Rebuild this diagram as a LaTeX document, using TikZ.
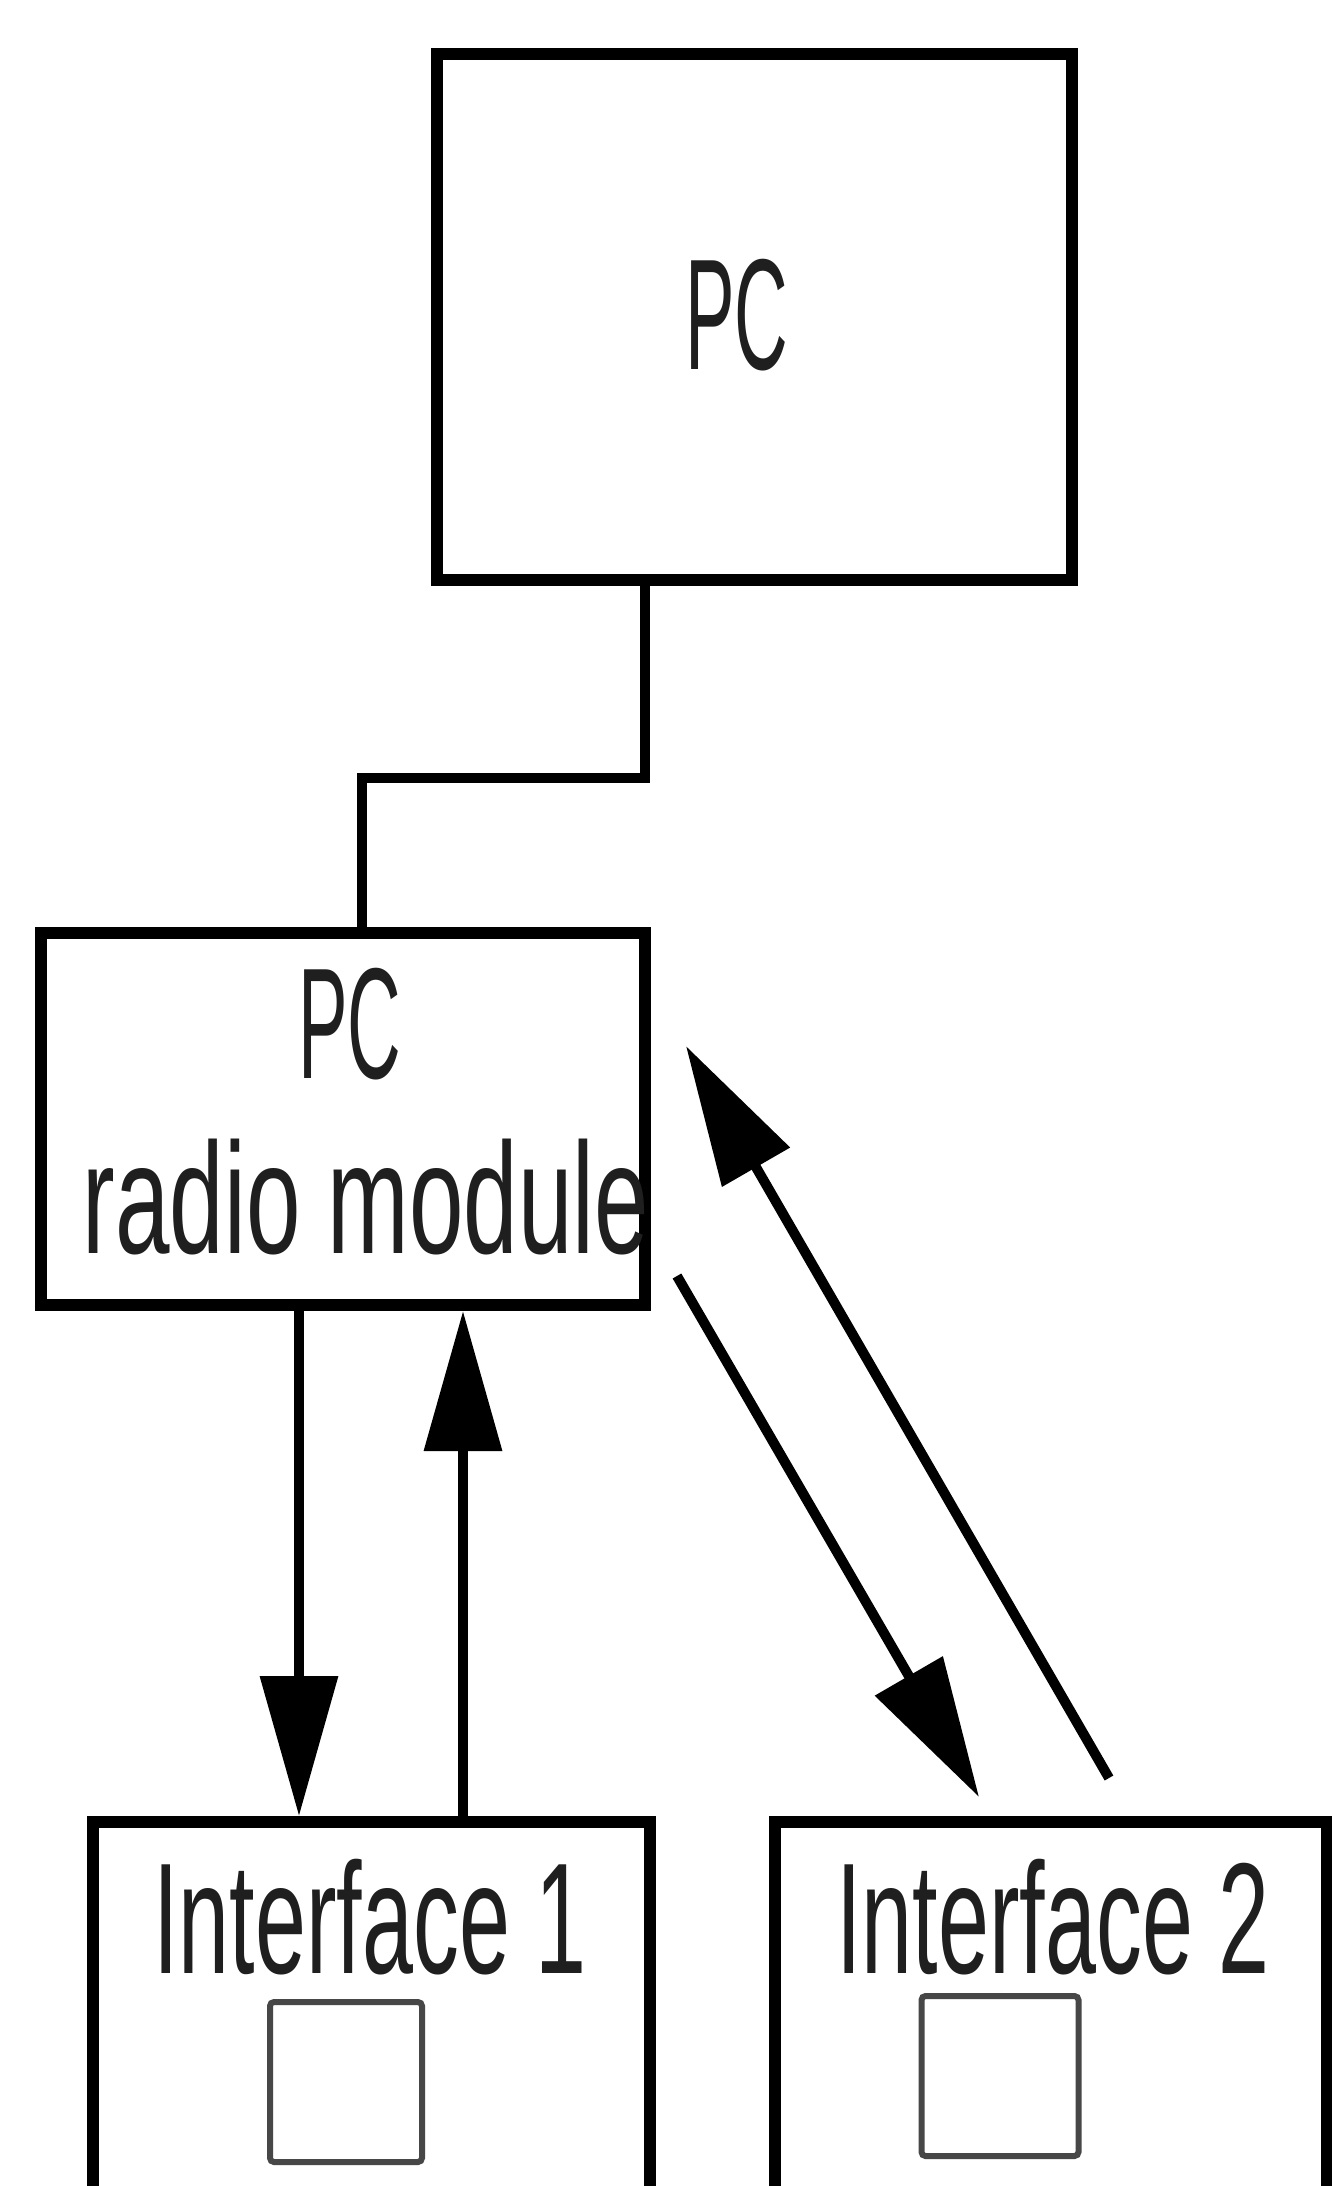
\documentclass[tikz,border=0pt]{standalone}
\usepackage{fontspec}
\newfontfamily\lblfont[FakeStretch=0.58]{Liberation Sans}
\newfontfamily\pcfont[FakeStretch=0.47]{Liberation Sans}
\newfontfamily\rmfont[FakeStretch=0.62]{Liberation Sans}
\usetikzlibrary{arrows.meta}
\begin{document}
\begin{tikzpicture}[x=0.5pt,y=-0.5pt,
  box/.style={draw=black,line width=6pt,inner sep=0pt},
  lbl/.style={font=\lblfont\fontsize{79}{90}\selectfont,inner sep=0pt,anchor=base,text=black!88},
  pclbl/.style={lbl,font=\pcfont\fontsize{79}{90}\selectfont},
  rmlbl/.style={lbl,font=\rmfont\fontsize{79}{90}\selectfont},
  arr/.style={line width=5pt,-{Triangle[length=70pt,width=38pt]}},
  wire/.style={line width=5pt},
  sq/.style={draw=black!72,line width=3pt,rounded corners=2pt,inner sep=0pt}]
\clip (0,0) rectangle (1332,2186);
\fill[white] (0,0) rectangle (1332,2186);
% boxes
\node[box,minimum width=317.5pt,minimum height=263pt] (pc) at (754.5,317) {};
\node[box,minimum width=302pt,minimum height=186pt] (radio) at (343,1119) {};
\node[box,minimum width=278.5pt,minimum height=239pt] (if1) at (371.5,2061) {};
\node[box,minimum width=276pt,minimum height=239pt] (if2) at (1051,2061) {};
\node[sq,minimum width=76pt,minimum height=80pt] (sq1) at (346,2082) {};
\node[sq,minimum width=78.5pt,minimum height=80pt] (sq2) at (1000,2076) {};
% labels
\node[pclbl] (tpc) at (737,369) {PC};
\node[pclbl] (trpc) at (350,1078) {PC};
\node[rmlbl] (trm) at (366,1253) {radio module};
\node[lbl] (ti1) at (370,1973) {Interface 1};
\node[lbl] (ti2) at (1053,1973) {Interface 2};
% connector PC -> radio module
\coordinate (c1) at (645,778);
\coordinate (c2) at (362,933);
\draw[wire] (c1 |- pc.south) -- (c1) -| (c2);
% vertical arrows
\coordinate (d1) at (299,0);
\coordinate (u1) at (463,0);
\draw[arr] (d1 |- radio.south) -- (d1 |- if1.north);
\draw[arr] (u1 |- if1.north) -- (u1 |- radio.south);
% diagonal arrows
\coordinate (dd1) at (677,1276);
\coordinate (dd2) at (979,1797);
\coordinate (du1) at (1109,1778);
\coordinate (du2) at (686,1046);
\draw[arr] (dd1) -- (dd2);
\draw[arr] (du1) -- (du2);
\end{tikzpicture}
\end{document}
